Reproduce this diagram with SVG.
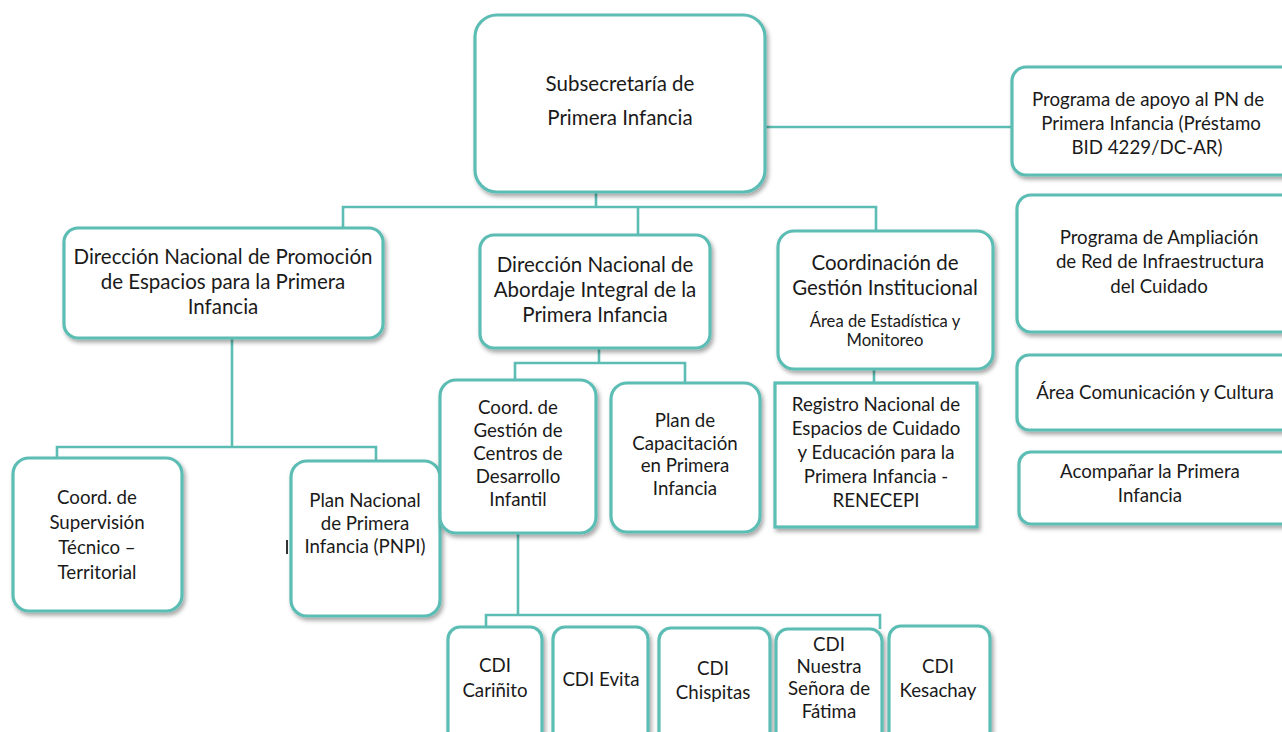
<svg xmlns="http://www.w3.org/2000/svg" width="1282" height="732" viewBox="0 0 1282 732">
<defs>
<filter id="sh" x="-10%" y="-10%" width="130%" height="130%">
<feDropShadow dx="2" dy="3" stdDeviation="2" flood-color="#000" flood-opacity="0.35"/>
</filter>
</defs>
<style>
.b{fill:#fff;stroke:#5cbdb4;stroke-width:3.2;filter:url(#sh)}
.c{fill:none;stroke:#5cbdb4;stroke-width:2.6}
text{font-family:Lato,"Open Sans","Liberation Sans",sans-serif;font-size:18.7px;fill:#1a1a1a;text-anchor:middle}
.L text{font-size:20.5px}
text.s{font-size:16.6px}
</style>
<rect width="1282" height="732" fill="#fff"/>
<g id="connectors">
<polyline class="c" points="596,192 596,207"/>
<polyline class="c" points="343,230 343,207 876,207 876,230"/>
<polyline class="c" points="638,207 638,235"/>
<polyline class="c" points="765,127 1013,127"/>
<polyline class="c" points="232,338 232,447"/>
<polyline class="c" points="57,459 57,447 376,447 376,462"/>
<polyline class="c" points="599,348 599,363"/>
<polyline class="c" points="515,381 515,363 685,363 685,384"/>
<polyline class="c" points="874,369 874,384"/>
<polyline class="c" points="518,533 518,615"/>
<polyline class="c" points="486,628 486,615 880,615 880,629"/>
</g>
<g id="n-subsecretaria" class="L"><rect class="b" x="475" y="15" width="290" height="177" rx="22"/>
<text x="620" y="91">Subsecretaría de</text><text x="620" y="125">Primera Infancia</text></g>
<g id="n-programa-apoyo"><rect class="b" x="1012" y="67" width="290" height="108" rx="14"/>
<text x="1148" y="106">Programa de apoyo al PN de</text><text x="1151" y="130">Primera Infancia (Préstamo</text><text x="1147" y="154">BID 4229/DC-AR)</text></g>
<g id="n-programa-ampliacion"><rect class="b" x="1017" y="195" width="285" height="137" rx="14"/>
<text x="1159" y="244">Programa de Ampliación</text><text x="1160" y="268">de Red de Infraestructura</text><text x="1159" y="293">del Cuidado</text></g>
<g id="n-comunicacion"><rect class="b" x="1017" y="355" width="285" height="75" rx="12"/>
<text x="1155" y="399">Área Comunicación y Cultura</text></g>
<g id="n-acompanar"><rect class="b" x="1019" y="452" width="283" height="72" rx="12"/>
<text x="1150" y="478">Acompañar la Primera</text><text x="1150" y="502">Infancia</text></g>
<g id="n-dn-promocion" class="L"><rect class="b" x="64" y="228" width="319" height="110" rx="14"/>
<text x="223" y="264">Dirección Nacional de Promoción</text><text x="223" y="289">de Espacios para la Primera</text><text x="223" y="314">Infancia</text></g>
<g id="n-dn-abordaje" class="L"><rect class="b" x="480" y="235" width="230" height="113" rx="14"/>
<text x="595" y="272">Dirección Nacional de</text><text x="595" y="297">Abordaje Integral de la</text><text x="595" y="322">Primera Infancia</text></g>
<g id="n-coord-gestion-inst" class="L"><rect class="b" x="778" y="231" width="215" height="138" rx="16"/>
<text x="885" y="270">Coordinación de</text><text x="885" y="295">Gestión Institucional</text><text class="s" x="885" y="327">Área de Estadística y</text><text class="s" x="885" y="346">Monitoreo</text></g>
<g id="n-coord-supervision"><rect class="b" x="13" y="458" width="169" height="153" rx="16"/>
<text x="97" y="504">Coord. de</text><text x="97" y="529">Supervisión</text><text x="97" y="554">Técnico –</text><text x="97" y="579">Territorial</text></g>
<g id="n-pnpi"><rect class="b" x="291" y="461" width="149" height="155" rx="16"/>
<rect x="286" y="540" width="2" height="14" fill="#333"/>
<text x="365" y="507">Plan Nacional</text><text x="365" y="530">de Primera</text><text x="365" y="553">Infancia (PNPI)</text></g>
<g id="n-coord-cdi"><rect class="b" x="440" y="380" width="156" height="153" rx="16"/>
<text x="518" y="414">Coord. de</text><text x="518" y="437">Gestión de</text><text x="518" y="460">Centros de</text><text x="518" y="483">Desarrollo</text><text x="518" y="506">Infantil</text></g>
<g id="n-plan-capacitacion"><rect class="b" x="611" y="383" width="149" height="149" rx="16"/>
<text x="685" y="427">Plan de</text><text x="685" y="450">Capacitación</text><text x="685" y="472">en Primera</text><text x="685" y="495">Infancia</text></g>
<g id="n-renecepi"><rect class="b" x="775" y="383" width="202" height="144"/>
<text x="876" y="411">Registro Nacional de</text><text x="876" y="435">Espacios de Cuidado</text><text x="876" y="459">y Educación para la</text><text x="876" y="483">Primera Infancia -</text><text x="876" y="507">RENECEPI</text></g>
<g id="n-cdi-carinito"><rect class="b" x="448" y="627" width="94" height="125" rx="12"/>
<text x="495" y="672">CDI</text><text x="495" y="697">Cariñito</text></g>
<g id="n-cdi-evita"><rect class="b" x="553" y="627" width="95" height="125" rx="12"/>
<text x="601" y="686">CDI Evita</text></g>
<g id="n-cdi-chispitas"><rect class="b" x="659" y="628" width="111" height="125" rx="12"/>
<text x="713" y="675">CDI</text><text x="713" y="699">Chispitas</text></g>
<g id="n-cdi-fatima"><rect class="b" x="776" y="629" width="106" height="125" rx="12"/>
<text x="829" y="651">CDI</text><text x="829" y="673">Nuestra</text><text x="829" y="695">Señora de</text><text x="829" y="718">Fátima</text></g>
<g id="n-cdi-kesachay"><rect class="b" x="889" y="626" width="101" height="126" rx="12"/>
<text x="938" y="673">CDI</text><text x="938" y="697">Kesachay</text></g>
</svg>
